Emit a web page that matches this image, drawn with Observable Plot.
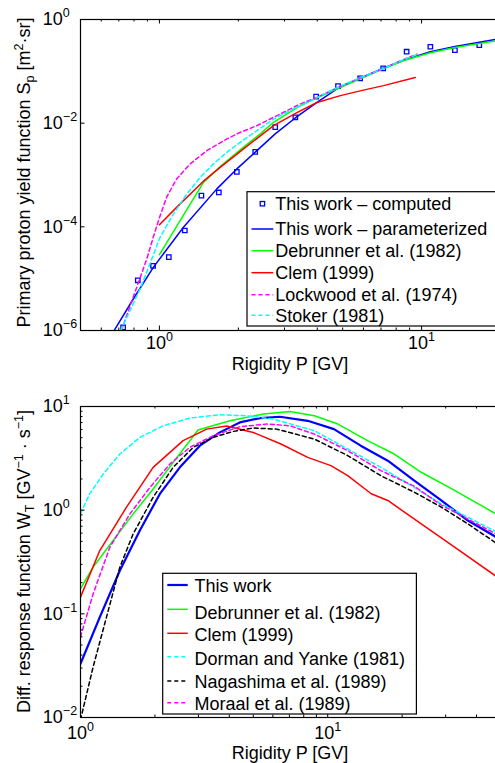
<!DOCTYPE html>
<html><head><meta charset="utf-8">
<script src="https://cdn.jsdelivr.net/npm/d3@7"></script>
<script src="https://cdn.jsdelivr.net/npm/@observablehq/plot@0.6"></script>
<style>
html,body{margin:0;padding:0;background:#fff;overflow:hidden;}
#wrap{position:relative;width:495px;height:763px;overflow:hidden;background:#fff;}
.panel{position:absolute;left:0;width:500px;}
</style></head>
<body><div id="wrap"><div class="panel" id="p1" style="top:0"></div><div class="panel" id="p2" style="top:380px"></div></div>
<script>
// ---------------- data: top panel (yield function) ----------------
const topCompP = [0.727, 0.827, 0.946, 1.086, 1.25, 1.446, 1.685, 1.974, 2.32, 2.765, 3.30, 3.96, 4.80, 5.83, 7.14, 8.77, 10.8, 13.4, 16.6];
const topCompS = [1.15e-6, 9.3e-6, 1.77e-5, 2.6e-5, 8.5e-5, 4.0e-4, 4.6e-4, 1.15e-3, 2.8e-3, 8.4e-3, 1.3e-2, 3.25e-2, 5.2e-2, 7.3e-2, 0.114, 0.239, 0.298, 0.257, 0.321];
const topParamP = [0.672, 0.796, 0.949, 1.235, 1.656, 1.974, 2.354, 2.765, 3.296, 3.99, 4.82, 5.83, 7.14, 8.77, 10.8, 13.4, 20];
const topParamS = [1.0e-6, 4.1e-6, 1.67e-5, 9.8e-5, 5.4e-4, 1.31e-3, 2.95e-3, 6.2e-3, 1.26e-2, 2.52e-2, 4.8e-2, 7.4e-2, 0.115, 0.172, 0.238, 0.30, 0.43];
const topDebP = [1.0, 1.472, 1.705, 2.093, 2.424, 2.724, 3.345, 3.99, 4.82, 5.83, 7.14, 8.77, 10.8, 13.4, 20];
const topDebS = [2.9e-5, 7.2e-4, 1.45e-3, 3.45e-3, 6.2e-3, 1.04e-2, 2.0e-2, 3.1e-2, 4.7e-2, 7.2e-2, 0.112, 0.168, 0.228, 0.288, 0.40];
const topClemP = [1.0, 1.165, 1.472, 1.705, 2.093, 2.724, 3.345, 3.99, 4.9, 5.83, 7.16, 9.46];
const topClemS = [1.1e-4, 2.4e-4, 7.6e-4, 1.4e-3, 3.2e-3, 9.0e-3, 1.6e-2, 2.5e-2, 3.4e-2, 4.2e-2, 5.3e-2, 7.6e-2];
const topLockP = [0.716, 0.82, 0.895, 0.949, 1.0, 1.067, 1.165, 1.31, 1.517, 1.808, 2.032, 2.354, 2.889, 3.44, 3.99, 4.8, 5.83, 7.14, 8.77, 9.6];
const topLockS = [1.0e-6, 6.9e-6, 2.4e-5, 6.5e-5, 1.5e-4, 3.8e-4, 8.5e-4, 1.64e-3, 2.95e-3, 4.96e-3, 6.65e-3, 8.95e-3, 1.5e-2, 2.34e-2, 3.14e-2, 4.9e-2, 7.4e-2, 0.113, 0.18, 0.215];
const topStokP = [0.712, 0.85, 1.006, 1.131, 1.272, 1.43, 1.607, 1.808, 2.032, 2.354, 2.724, 3.247, 3.87, 4.61, 5.5, 7.14, 8.77, 9.6];
const topStokS = [1.0e-6, 6.9e-6, 6.3e-5, 1.78e-4, 4.3e-4, 9.0e-4, 1.64e-3, 2.74e-3, 4.27e-3, 7.2e-3, 1.2e-2, 1.9e-2, 2.85e-2, 4.5e-2, 6.7e-2, 0.113, 0.178, 0.21];
const topLabels = ["This work \u2013 computed", "This work \u2013 parameterized", "Debrunner et al. (1982)", "Clem (1999)", "Lockwood et al. (1974)", "Stoker (1981)"];
const topXDomain = [0.5, 20];
const topYDomain = [1e-6, 1];
const topXTicks = [1, 10];
const topXMinor = [0.6, 0.7, 0.8, 0.9, 2, 3, 4, 5, 6, 7, 8, 9, 20];
const topYTicks = [1e-6, 1e-4, 1e-2, 1];

// ---------------- data: bottom panel (response function) ----------------
const botThisP = [1, 1.197, 1.443, 1.738, 2.094, 2.523, 3.04, 3.66, 4.41, 5.32, 6.41, 8.30, 10.6, 13.6, 17.5, 22.4, 28.8, 36.9, 50];
const botThisW = [0.033, 0.093, 0.262, 0.637, 1.435, 2.59, 4.19, 5.63, 7.02, 7.73, 7.96, 7.28, 6.05, 4.19, 3.0, 1.93, 1.24, 0.794, 0.52];
const botDebP = [1, 1.125, 1.355, 1.633, 1.967, 2.37, 2.99, 4.02, 5.49, 7.04, 8.83, 11.0, 14.5, 18.6, 23.9, 32.6, 50];
const botDebW = [0.175, 0.282, 0.509, 0.92, 1.60, 2.89, 5.93, 7.28, 8.45, 8.96, 8.13, 6.77, 4.68, 3.48, 2.32, 1.55, 0.87];
const botClemP = [1, 1.197, 1.535, 1.967, 2.60, 3.24, 3.90, 5.0, 6.47, 8.3, 10.3, 12.05, 15.0, 17.5, 23.9, 32.6, 50];
const botClemW = [0.145, 0.408, 1.07, 2.59, 4.68, 6.05, 6.47, 5.62, 4.35, 3.23, 2.69, 2.15, 1.44, 1.24, 0.738, 0.44, 0.215];
const botDorP = [1, 1.09, 1.235, 1.443, 1.738, 2.16, 2.77, 3.66, 4.70, 6.02, 8.83, 12.05, 16.4, 22.4, 28.8, 36.9, 50];
const botDorW = [0.93, 1.44, 2.23, 3.48, 5.04, 6.52, 7.73, 8.32, 8.13, 7.56, 5.84, 3.89, 2.59, 1.66, 1.15, 0.855, 0.59];
const botNagP = [1, 1.125, 1.274, 1.443, 1.633, 1.967, 2.37, 2.86, 3.44, 4.15, 5.0, 6.22, 8.83, 12.05, 16.4, 22.4, 28.8, 36.9, 50];
const botNagW = [0.0095, 0.0308, 0.093, 0.282, 0.59, 1.33, 2.59, 4.04, 5.04, 5.75, 6.2, 6.05, 4.85, 3.36, 2.15, 1.49, 1.07, 0.738, 0.45];
const botMorP = [1, 1.125, 1.315, 1.585, 1.91, 2.30, 2.77, 3.44, 4.41, 5.66, 7.04, 8.83, 12.05, 16.4, 22.4, 28.8, 36.9, 50];
const botMorW = [0.060, 0.156, 0.44, 0.92, 1.66, 2.79, 4.04, 5.22, 6.38, 6.77, 6.52, 5.42, 3.75, 2.41, 1.70, 1.12, 0.82, 0.56];
const botLabels = ["This work", "Debrunner et al. (1982)", "Clem (1999)", "Dorman and Yanke (1981)", "Nagashima et al. (1989)", "Moraal et al. (1989)"];
const botXDomain = [1, 50];
const botYDomain = [1e-2, 10];
const botXTicks = [1, 10];
const botXMinor = [2, 3, 4, 5, 6, 7, 8, 9, 20, 30, 40, 50];
const botYTicks = [1e-2, 1e-1, 1, 10];
const botYMinor = [0.02,0.03,0.04,0.05,0.06,0.07,0.08,0.09,0.2,0.3,0.4,0.5,0.6,0.7,0.8,0.9,2,3,4,5,6,7,8,9];
const xTitle = "Rigidity P [GV]";

// ---------------- helpers ----------------
const FONT = "'Liberation Sans', Arial, Helvetica, sans-serif";
const FS = 18, SMALL = 12.5;
const PW = 420, PH = 311;
const LW = 1.5;
const zipPS = (P, V) => P.map((p, i) => ({P: p, V: V[i]}));
const pow10 = d => "10^" + Math.round(Math.log10(d));

function lineMark(P, V, color, dash, width) {
  return Plot.line(zipPS(P, V), {x: "P", y: "V", stroke: color, strokeWidth: width, strokeDasharray: dash || undefined, clip: true});
}
function tickMarks(xMaj, xMin, yMaj, yMin) {
  const m = [];
  const maj = 4.5, min = 2.5;
  m.push(Plot.ruleX(xMaj, {insetTop: PH - maj, stroke: "black"}));
  m.push(Plot.ruleX(xMaj, {insetBottom: PH - maj, stroke: "black"}));
  m.push(Plot.ruleX(xMin, {insetTop: PH - min, stroke: "black"}));
  m.push(Plot.ruleX(xMin, {insetBottom: PH - min, stroke: "black"}));
  m.push(Plot.ruleY(yMaj, {insetRight: PW - maj, stroke: "black"}));
  if (yMin) m.push(Plot.ruleY(yMin, {insetRight: PW - min, stroke: "black"}));
  return m;
}
function supTicks(svg) {
  d3.select(svg).selectAll('g[aria-label$="tick label"] text').each(function() {
    const s = this.textContent;
    const mm = /^10\^(-?\d+)$/.exec(s);
    if (!mm) return;
    const e = mm[1].replace("-", "\u2212");
    const t = d3.select(this);
    t.selectAll("*").remove();
    t.text(null);
    t.append("tspan").text("10");
    t.append("tspan").attr("dy", -8).attr("font-size", SMALL).text(e);
  });
}
function richText(sel, parts) {
  let shift = 0;
  parts.forEach(([s, k]) => {
    const target = k === "sub" ? 4.5 : k === "sup" ? -7 : 0;
    const ts = sel.append("tspan").attr("dy", target - shift).text(s);
    if (k) ts.attr("font-size", SMALL);
    shift = target;
  });
}
function addTitles(svg, xy, ycy, yparts) {
  const s = d3.select(svg);
  s.append("text").attr("x", 290).attr("y", xy).attr("text-anchor", "middle")
    .attr("font-family", FONT).attr("font-size", FS).attr("fill", "black").text(xTitle);
  const t = s.append("text").attr("transform", `translate(29.5,${ycy}) rotate(-90)`)
    .attr("text-anchor", "middle").attr("font-family", FONT).attr("font-size", FS).attr("fill", "black");
  richText(t, yparts);
}
function addLegend(svg, box, rows) {
  const g = d3.select(svg).append("g").attr("font-family", FONT).attr("font-size", FS).attr("text-anchor", "start");
  g.append("rect").attr("x", box.x).attr("y", box.y).attr("width", box.w).attr("height", box.h)
    .attr("fill", "white").attr("stroke", "black").attr("stroke-width", 1.2);
  rows.forEach(r => {
    if (r.marker) {
      g.append("rect").attr("x", (box.lx1 + box.lx2) / 2 - 2.2).attr("y", r.ly - 2.2).attr("width", 4.4).attr("height", 4.4)
        .attr("fill", "none").attr("stroke", r.color).attr("stroke-width", 1.3);
    } else {
      g.append("line").attr("x1", box.lx1).attr("x2", box.lx2).attr("y1", r.ly).attr("y2", r.ly)
        .attr("stroke", r.color).attr("stroke-width", r.w).attr("stroke-dasharray", r.dash || null);
    }
    g.append("text").attr("x", box.tx).attr("y", r.ty).attr("text-anchor", "start").attr("fill", "black").text(r.label);
  });
}

const DASH = "4,3";

// ---------------- top plot ----------------
const topPlot = Plot.plot({
  width: 500, height: 380, marginLeft: 80, marginRight: 0, marginTop: 19, marginBottom: 50,
  style: {fontFamily: FONT, fontSize: FS + "px", background: "white", color: "black"},
  x: {type: "log", domain: topXDomain, label: null},
  y: {type: "log", domain: topYDomain, label: null},
  marks: [
    Plot.dot(zipPS(topCompP, topCompS), {x: "P", y: "V", symbol: "square", r: 2.5, stroke: "#0000ff", fill: "none", strokeWidth: 1.3}),
    lineMark(topParamP, topParamS, "#0000ff", null, LW),
    lineMark(topDebP, topDebS, "#00ff00", null, LW),
    lineMark(topClemP, topClemS, "#ff0000", null, LW),
    lineMark(topLockP, topLockS, "#ff00ff", DASH, LW),
    lineMark(topStokP, topStokS, "#00ffff", DASH, LW),
    ...tickMarks(topXTicks, topXMinor, topYTicks, null),
    Plot.axisX({ticks: topXTicks, tickSize: 0, tickPadding: 6, tickFormat: pow10, label: null}),
    Plot.axisY({ticks: topYTicks, tickSize: 0, tickPadding: 0, textAnchor: "start", dx: -37.7, tickFormat: pow10, label: null}),
    Plot.frame({stroke: "black", strokeWidth: 1.2})
  ]
});
supTicks(topPlot);
addTitles(topPlot, 370, 172.5, [["Primary proton yield function S", ""], ["p", "sub"], [" [m", ""], ["2", "sup"], ["\u00b7sr]", ""]]);
const topColors = ["#0000ff", "#0000ff", "#00ff00", "#ff0000", "#ff00ff", "#00ffff"];
const topDash = [null, null, null, null, DASH, DASH];
const topLY = [203.7, 229, 250.7, 272.7, 294.7, 315.3];
const topTY = [210, 235.3, 257, 279, 301, 321.7];
addLegend(topPlot, {x: 247, y: 191.7, w: 270, h: 134.3, lx1: 251.5, lx2: 273.3, tx: 275.3},
  topLabels.map((l, i) => ({label: l, color: topColors[i], dash: topDash[i], w: LW, marker: i === 0, ly: topLY[i], ty: topTY[i]})));
document.getElementById("p1").appendChild(topPlot);

// ---------------- bottom plot ----------------
const botPlot = Plot.plot({
  width: 500, height: 383, marginLeft: 80, marginRight: 0, marginTop: 26, marginBottom: 46,
  style: {fontFamily: FONT, fontSize: FS + "px", background: "white", color: "black"},
  x: {type: "log", domain: botXDomain, label: null},
  y: {type: "log", domain: botYDomain, label: null},
  marks: [
    lineMark(botThisP, botThisW, "#0000ff", null, 2.2),
    lineMark(botDebP, botDebW, "#00ff00", null, LW),
    lineMark(botClemP, botClemW, "#ff0000", null, LW),
    lineMark(botDorP, botDorW, "#00ffff", DASH, LW),
    lineMark(botNagP, botNagW, "#000000", DASH, LW),
    lineMark(botMorP, botMorW, "#ff00ff", DASH, LW),
    ...tickMarks(botXTicks, botXMinor, botYTicks, botYMinor),
    Plot.axisX({ticks: botXTicks, tickSize: 0, tickPadding: 9, tickFormat: pow10, label: null}),
    Plot.axisY({ticks: botYTicks, tickSize: 0, tickPadding: 0, textAnchor: "start", dx: -37.7, tickFormat: pow10, label: null}),
    Plot.frame({stroke: "black", strokeWidth: 1.2})
  ]
});
supTicks(botPlot);
addTitles(botPlot, 378.5, 181.5, [["Diff. response function W", ""], ["T", "sub"], [" [GV", ""], ["\u22121", "sup"], [" \u00b7 s", ""], ["\u22121", "sup"], ["]", ""]]);
const botColors = ["#0000ff", "#00ff00", "#ff0000", "#00ffff", "#000000", "#ff00ff"];
const botDash = [null, null, null, DASH, DASH, DASH];
const botW = [2.2, LW, LW, LW, LW, LW];
const botLY = [205, 229.3, 253.3, 276.7, 301, 322.7];
const botTY = [212, 238.5, 260.5, 285.3, 308, 329.5];
addLegend(botPlot, {x: 162.7, y: 193.3, w: 253.7, h: 140.7, lx1: 167.3, lx2: 187.7, tx: 194.5},
  botLabels.map((l, i) => ({label: l, color: botColors[i], dash: botDash[i], w: botW[i], marker: false, ly: botLY[i], ty: botTY[i]})));
document.getElementById("p2").appendChild(botPlot);
</script>
</body></html>
